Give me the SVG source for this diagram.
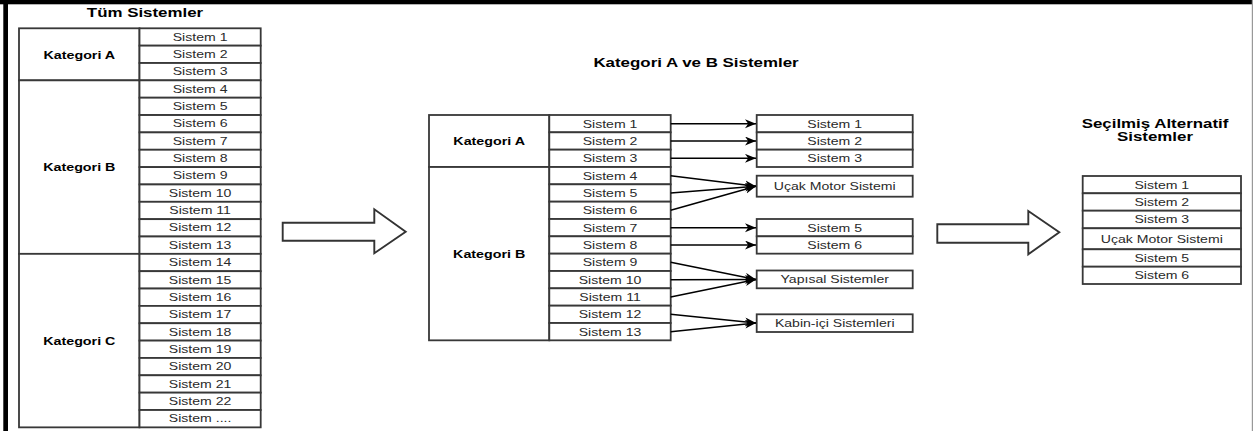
<svg xmlns="http://www.w3.org/2000/svg" width="1253" height="431" viewBox="0 0 1253 431">
<style>
.cell{fill:#fff;stroke:#383838;stroke-width:1.8}
.t{font-family:"Liberation Sans",Arial,sans-serif;font-size:11px;fill:#2a2a2a;text-anchor:middle}
.k{font-family:"Liberation Sans",Arial,sans-serif;font-size:11px;font-weight:bold;fill:#000;text-anchor:middle}
.h{font-family:"Liberation Sans",Arial,sans-serif;font-size:13px;font-weight:bold;fill:#000;text-anchor:middle}
.big{fill:#fff;stroke:#333;stroke-width:1.9}
.c{stroke:#000;stroke-width:1.5;fill:none;marker-end:url(#ah)}
</style>
<defs>
<marker id="ah" markerUnits="userSpaceOnUse" markerWidth="12" markerHeight="10" refX="11" refY="4.5" orient="auto">
<path d="M0,0 L11,4.5 L0,9 L3.2,4.5 Z" fill="#000"/>
</marker>
</defs>
<rect x="0" y="0" width="1253" height="431" fill="#fff"/>
<rect x="0" y="0" width="1253" height="4.3" fill="#000"/>
<rect x="3.3" y="0" width="4.7" height="431" fill="#000"/>
<line x1="1252.4" y1="0" x2="1252.4" y2="431" stroke="#999" stroke-width="1.2"/>

<g id="title-all"><text class="h" transform="translate(145,16.7) scale(1.3,1)">Tüm Sistemler</text></g>
<g id="title-ab"><text class="h" transform="translate(696,66.5) scale(1.3,1)">Kategori A ve B Sistemler</text></g>
<g id="title-sel"><text class="h" transform="translate(1155,127.5) scale(1.3,1)">Seçilmiş Alternatif</text><text class="h" transform="translate(1155,141) scale(1.3,1)">Sistemler</text></g>

<g id="table-all">
<rect class="cell" x="19" y="28.3" width="120.5" height="52.05"/>
<rect class="cell" x="19" y="80.35" width="120.5" height="173.5"/>
<rect class="cell" x="19" y="253.85" width="120.5" height="173.5"/>
<text class="k" transform="translate(79.3,58.7) scale(1.3,1)">Kategori A</text>
<text class="k" transform="translate(79.3,171) scale(1.3,1)">Kategori B</text>
<text class="k" transform="translate(79.3,344.6) scale(1.3,1)">Kategori C</text>
<rect class="cell" x="139.5" y="28.3" width="121.2" height="17.35"/>
<rect class="cell" x="139.5" y="45.65" width="121.2" height="17.35"/>
<rect class="cell" x="139.5" y="63" width="121.2" height="17.35"/>
<rect class="cell" x="139.5" y="80.35" width="121.2" height="17.35"/>
<rect class="cell" x="139.5" y="97.7" width="121.2" height="17.35"/>
<rect class="cell" x="139.5" y="115.05" width="121.2" height="17.35"/>
<rect class="cell" x="139.5" y="132.4" width="121.2" height="17.35"/>
<rect class="cell" x="139.5" y="149.75" width="121.2" height="17.35"/>
<rect class="cell" x="139.5" y="167.1" width="121.2" height="17.35"/>
<rect class="cell" x="139.5" y="184.45" width="121.2" height="17.35"/>
<rect class="cell" x="139.5" y="201.8" width="121.2" height="17.35"/>
<rect class="cell" x="139.5" y="219.15" width="121.2" height="17.35"/>
<rect class="cell" x="139.5" y="236.5" width="121.2" height="17.35"/>
<rect class="cell" x="139.5" y="253.85" width="121.2" height="17.35"/>
<rect class="cell" x="139.5" y="271.2" width="121.2" height="17.35"/>
<rect class="cell" x="139.5" y="288.55" width="121.2" height="17.35"/>
<rect class="cell" x="139.5" y="305.9" width="121.2" height="17.35"/>
<rect class="cell" x="139.5" y="323.25" width="121.2" height="17.35"/>
<rect class="cell" x="139.5" y="340.6" width="121.2" height="17.35"/>
<rect class="cell" x="139.5" y="357.95" width="121.2" height="17.35"/>
<rect class="cell" x="139.5" y="375.3" width="121.2" height="17.35"/>
<rect class="cell" x="139.5" y="392.65" width="121.2" height="17.35"/>
<rect class="cell" x="139.5" y="410" width="121.2" height="17.35"/>
<text class="t" transform="translate(200.1,40.6) scale(1.28,1)">Sistem 1</text>
<text class="t" transform="translate(200.1,57.95) scale(1.28,1)">Sistem 2</text>
<text class="t" transform="translate(200.1,75.3) scale(1.28,1)">Sistem 3</text>
<text class="t" transform="translate(200.1,92.65) scale(1.28,1)">Sistem 4</text>
<text class="t" transform="translate(200.1,110) scale(1.28,1)">Sistem 5</text>
<text class="t" transform="translate(200.1,127.35) scale(1.28,1)">Sistem 6</text>
<text class="t" transform="translate(200.1,144.7) scale(1.28,1)">Sistem 7</text>
<text class="t" transform="translate(200.1,162.05) scale(1.28,1)">Sistem 8</text>
<text class="t" transform="translate(200.1,179.4) scale(1.28,1)">Sistem 9</text>
<text class="t" transform="translate(200.1,196.75) scale(1.28,1)">Sistem 10</text>
<text class="t" transform="translate(200.1,214.1) scale(1.28,1)">Sistem 11</text>
<text class="t" transform="translate(200.1,231.45) scale(1.28,1)">Sistem 12</text>
<text class="t" transform="translate(200.1,248.8) scale(1.28,1)">Sistem 13</text>
<text class="t" transform="translate(200.1,266.15) scale(1.28,1)">Sistem 14</text>
<text class="t" transform="translate(200.1,283.5) scale(1.28,1)">Sistem 15</text>
<text class="t" transform="translate(200.1,300.85) scale(1.28,1)">Sistem 16</text>
<text class="t" transform="translate(200.1,318.2) scale(1.28,1)">Sistem 17</text>
<text class="t" transform="translate(200.1,335.55) scale(1.28,1)">Sistem 18</text>
<text class="t" transform="translate(200.1,352.9) scale(1.28,1)">Sistem 19</text>
<text class="t" transform="translate(200.1,370.25) scale(1.28,1)">Sistem 20</text>
<text class="t" transform="translate(200.1,387.6) scale(1.28,1)">Sistem 21</text>
<text class="t" transform="translate(200.1,404.95) scale(1.28,1)">Sistem 22</text>
<text class="t" transform="translate(200.1,422.3) scale(1.28,1)">Sistem ....</text>
</g>

<g id="arrow-1"><polygon class="big" points="282.7,222.7 374.3,222.7 374.3,209.3 405.7,231.7 374.3,253.3 374.3,240.7 282.7,240.7"/></g>

<g id="table-ab">
<rect class="cell" x="429" y="115" width="120.3" height="52"/>
<rect class="cell" x="429" y="167" width="120.3" height="173.33"/>
<text class="k" transform="translate(489.2,145) scale(1.3,1)">Kategori A</text>
<text class="k" transform="translate(489.2,257.5) scale(1.3,1)">Kategori B</text>
<rect class="cell" x="549.3" y="115" width="121.4" height="17.33"/>
<rect class="cell" x="549.3" y="132.33" width="121.4" height="17.33"/>
<rect class="cell" x="549.3" y="149.67" width="121.4" height="17.33"/>
<rect class="cell" x="549.3" y="167" width="121.4" height="17.33"/>
<rect class="cell" x="549.3" y="184.33" width="121.4" height="17.33"/>
<rect class="cell" x="549.3" y="201.67" width="121.4" height="17.33"/>
<rect class="cell" x="549.3" y="219" width="121.4" height="17.33"/>
<rect class="cell" x="549.3" y="236.33" width="121.4" height="17.33"/>
<rect class="cell" x="549.3" y="253.67" width="121.4" height="17.33"/>
<rect class="cell" x="549.3" y="271" width="121.4" height="17.33"/>
<rect class="cell" x="549.3" y="288.33" width="121.4" height="17.33"/>
<rect class="cell" x="549.3" y="305.67" width="121.4" height="17.33"/>
<rect class="cell" x="549.3" y="323" width="121.4" height="17.33"/>
<text class="t" transform="translate(610,127.6) scale(1.28,1)">Sistem 1</text>
<text class="t" transform="translate(610,144.9) scale(1.28,1)">Sistem 2</text>
<text class="t" transform="translate(610,162.3) scale(1.28,1)">Sistem 3</text>
<text class="t" transform="translate(610,179.6) scale(1.28,1)">Sistem 4</text>
<text class="t" transform="translate(610,196.9) scale(1.28,1)">Sistem 5</text>
<text class="t" transform="translate(610,214.3) scale(1.28,1)">Sistem 6</text>
<text class="t" transform="translate(610,231.6) scale(1.28,1)">Sistem 7</text>
<text class="t" transform="translate(610,248.9) scale(1.28,1)">Sistem 8</text>
<text class="t" transform="translate(610,266.3) scale(1.28,1)">Sistem 9</text>
<text class="t" transform="translate(610,283.6) scale(1.28,1)">Sistem 10</text>
<text class="t" transform="translate(610,300.9) scale(1.28,1)">Sistem 11</text>
<text class="t" transform="translate(610,318.3) scale(1.28,1)">Sistem 12</text>
<text class="t" transform="translate(610,335.6) scale(1.28,1)">Sistem 13</text>
</g>

<g id="box-s1"><rect class="cell" x="756.7" y="115" width="156" height="17.33"/><text class="t" transform="translate(834.7,127.6) scale(1.28,1)">Sistem 1</text></g>
<g id="box-s2"><rect class="cell" x="756.7" y="132.33" width="156" height="17.33"/><text class="t" transform="translate(834.7,144.9) scale(1.28,1)">Sistem 2</text></g>
<g id="box-s3"><rect class="cell" x="756.7" y="149.67" width="156" height="17.33"/><text class="t" transform="translate(834.7,162.3) scale(1.28,1)">Sistem 3</text></g>
<g id="box-motor"><rect class="cell" x="756.7" y="175.7" width="156" height="21"/><text class="t" transform="translate(834.7,190) scale(1.28,1)">Uçak Motor Sistemi</text></g>
<g id="box-s5"><rect class="cell" x="756.7" y="219" width="156" height="17.33"/><text class="t" transform="translate(834.7,231.6) scale(1.28,1)">Sistem 5</text></g>
<g id="box-s6"><rect class="cell" x="756.7" y="236.33" width="156" height="17.33"/><text class="t" transform="translate(834.7,248.9) scale(1.28,1)">Sistem 6</text></g>
<g id="box-yapisal"><rect class="cell" x="756.7" y="270.5" width="156" height="17.8"/><text class="t" transform="translate(834.7,283.2) scale(1.28,1)">Yapısal Sistemler</text></g>
<g id="box-kabin"><rect class="cell" x="756.7" y="314.3" width="156" height="17.7"/><text class="t" transform="translate(834.7,326.9) scale(1.28,1)">Kabin-içi Sistemleri</text></g>

<g id="connectors">
<line class="c" x1="670.7" y1="123.67" x2="756" y2="123.67"/>
<line class="c" x1="670.7" y1="141" x2="756" y2="141"/>
<line class="c" x1="670.7" y1="158.33" x2="756" y2="158.33"/>
<line class="c" x1="670.7" y1="175.67" x2="756" y2="186.2"/>
<line class="c" x1="670.7" y1="193" x2="756" y2="186.2"/>
<line class="c" x1="670.7" y1="210.33" x2="756" y2="186.2"/>
<line class="c" x1="670.7" y1="227.67" x2="756" y2="227.67"/>
<line class="c" x1="670.7" y1="245" x2="756" y2="245"/>
<line class="c" x1="670.7" y1="262.33" x2="756" y2="279.4"/>
<line class="c" x1="670.7" y1="279.67" x2="756" y2="279.4"/>
<line class="c" x1="670.7" y1="297" x2="756" y2="279.4"/>
<line class="c" x1="670.7" y1="314.33" x2="756" y2="323"/>
<line class="c" x1="670.7" y1="331.67" x2="756" y2="323"/>
</g>

<g id="arrow-2"><polygon class="big" points="937.3,224.3 1028.3,224.3 1028.3,211 1059.3,232.3 1028.3,254.3 1028.3,242.7 937.3,242.7"/></g>

<g id="table-selected">
<rect class="cell" x="1082.7" y="176" width="158.3" height="17.3"/>
<rect class="cell" x="1082.7" y="193.3" width="158.3" height="17.4"/>
<rect class="cell" x="1082.7" y="210.7" width="158.3" height="17.6"/>
<rect class="cell" x="1082.7" y="228.3" width="158.3" height="21"/>
<rect class="cell" x="1082.7" y="249.3" width="158.3" height="17.4"/>
<rect class="cell" x="1082.7" y="266.7" width="158.3" height="17.3"/>
<text class="t" transform="translate(1161.8,188.5) scale(1.28,1)">Sistem 1</text>
<text class="t" transform="translate(1161.8,205.9) scale(1.28,1)">Sistem 2</text>
<text class="t" transform="translate(1161.8,223.4) scale(1.28,1)">Sistem 3</text>
<text class="t" transform="translate(1161.8,242.6) scale(1.28,1)">Uçak Motor Sistemi</text>
<text class="t" transform="translate(1161.8,261.9) scale(1.28,1)">Sistem 5</text>
<text class="t" transform="translate(1161.8,279.2) scale(1.28,1)">Sistem 6</text>
</g>
</svg>
